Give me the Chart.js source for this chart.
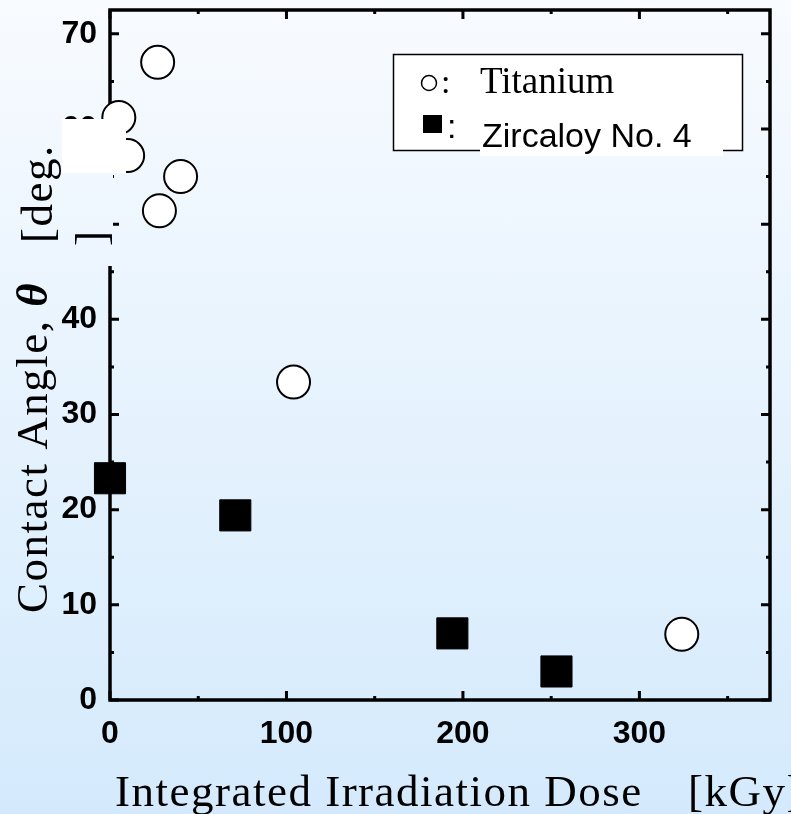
<!DOCTYPE html>
<html>
<head>
<meta charset="utf-8">
<script src="https://cdn.jsdelivr.net/npm/chart.js@4"></script>
<style>
    html, body { margin: 0; padding: 0; }
    body {
        width: 791px;
        height: 814px;
        overflow: hidden;
        background: linear-gradient(to bottom, #f8fbff 0%, #d4eafc 100%);
    }
    canvas { display: block; }
</style>
</head>
<body>
<canvas id="myChart" width="791" height="814"></canvas>
<script>
// values
const titaniumDose = [27, 5, 10, 40, 28, 104, 324];
const titaniumAngle = [67.0, 61.2, 57.2, 55.0, 51.4, 33.4, 6.9];
const zircaloyDose = [0, 71, 194, 253];
const zircaloyAngle = [23.3, 19.4, 7.0, 3.0];

const xTicks = [0, 100, 200, 300];
const xMinor = [50, 150, 250, 350];
const yTicks = [0, 10, 20, 30, 40, 50, 60, 70];
const yMinor = [5, 15, 25, 35, 45, 55, 65];
const xMax = 374, yMax = 72.5;

const toPoints = (xs, ys) => xs.map((v, i) => ({ x: v, y: ys[i] }));

// frame box with inner ticks on all four sides
const framePlugin = {
    id: 'frame',
    beforeDatasetsDraw(chart) {
        const { ctx, chartArea: a, scales: { x, y } } = chart;
        ctx.save();
        ctx.strokeStyle = '#000';
        ctx.lineWidth = 3.5;
        ctx.strokeRect(a.left, a.top, a.right - a.left, a.bottom - a.top);
        ctx.lineWidth = 3;
        ctx.beginPath();
        const xt = (v, len) => {
            const px = x.getPixelForValue(v);
            ctx.moveTo(px, a.bottom); ctx.lineTo(px, a.bottom - len);
            ctx.moveTo(px, a.top); ctx.lineTo(px, a.top + len);
        };
        const yt = (v, len) => {
            const py = y.getPixelForValue(v);
            ctx.moveTo(a.left, py); ctx.lineTo(a.left + len, py);
            ctx.moveTo(a.right, py); ctx.lineTo(a.right - len, py);
        };
        xTicks.forEach(v => xt(v, 9));
        xMinor.forEach(v => xt(v, 4));
        yTicks.forEach(v => yt(v, 9));
        yMinor.forEach(v => yt(v, 4));
        ctx.stroke();
        ctx.restore();
    }
};

// patches, axis titles and the boxed legend
const overlayPlugin = {
    id: 'overlay',
    afterDraw(chart) {
        const { ctx, chartArea: a } = chart;
        ctx.save();

        // the pasted-over bits on the left axis
        ctx.fillStyle = '#fff';
        ctx.fillRect(62, 119, a.left + 16 - 62, 54);
        ctx.clearRect(0, 173, a.left + 3, 93);

        ctx.fillStyle = '#000';
        ctx.letterSpacing = '1.5px';

        // y title
        ctx.save();
        ctx.translate(47, 613);
        ctx.rotate(-Math.PI / 2);
        ctx.font = '45px "Liberation Serif"';
        ctx.textAlign = 'left';
        ctx.textBaseline = 'alphabetic';
        const part = 'Contact Angle, ';
        ctx.fillText(part, 0, 0);
        const w = ctx.measureText(part).width;
        ctx.font = 'italic bold 45px "Liberation Serif"';
        ctx.fillText('θ', w, 0);
        ctx.restore();

        ctx.save();
        ctx.translate(52, 243);
        ctx.rotate(-Math.PI / 2);
        ctx.font = '45px "Liberation Serif"';
        ctx.fillText('[deg.', 0, 0);
        ctx.restore();

        ctx.save();
        ctx.translate(106, 246);
        ctx.rotate(-Math.PI / 2);
        ctx.font = '45px "Liberation Serif"';
        ctx.fillText(']', 0, 0);
        ctx.restore();

        // x title
        ctx.font = '45px "Liberation Serif"';
        ctx.textAlign = 'left';
        ctx.fillText('Integrated Irradiation Dose', 115, 806);
        ctx.fillText('[kGy]', 688, 806);
        ctx.letterSpacing = '0px';

        // legend
        const ds = chart.data.datasets;
        ctx.fillStyle = '#fff';
        ctx.fillRect(393, 54, 350, 97);
        ctx.strokeStyle = '#000';
        ctx.lineWidth = 1.5;
        ctx.strokeRect(393.5, 54.5, 349, 96);

        ctx.beginPath();
        ctx.arc(429, 83, 7.5, 0, Math.PI * 2);
        ctx.fillStyle = '#fff';
        ctx.fill();
        ctx.stroke();
        ctx.fillStyle = '#000';
        ctx.font = '34px "Liberation Serif"';
        ctx.fillText(':', 441, 93);
        ctx.font = '37px "Liberation Serif"';
        ctx.fillText(ds[0].label, 480, 93);

        ctx.fillRect(423, 115, 19, 18);
        ctx.font = '34px "Liberation Sans"';
        ctx.fillText(':', 447, 138);
        ctx.fillStyle = '#fff';
        ctx.fillRect(480, 108, 243, 48);
        ctx.fillStyle = '#000';
        ctx.fillText(ds[1].label, 482, 147);

        ctx.restore();
    }
};

const data = {
    datasets: [{
        label: 'Titanium',
        data: toPoints(titaniumDose, titaniumAngle),
        pointStyle: 'circle',
        pointRadius: 16.5,
        pointHoverRadius: 16.5,
        backgroundColor: '#fff',
        borderColor: '#000',
        borderWidth: 2,
        clip: false
    }, {
        label: 'Zircaloy No. 4',
        data: toPoints(zircaloyDose, zircaloyAngle),
        pointStyle: 'rect',
        pointRadius: 22,
        pointHoverRadius: 22,
        backgroundColor: '#000',
        borderColor: '#000',
        borderWidth: 1,
        clip: false
    }]
};

const tickFont = { family: '"Liberation Sans", sans-serif', size: 32, weight: 'bold' };

const config = {
    type: 'scatter',
    data,
    options: {
        responsive: false,
        animation: false,
        events: [],
        layout: { autoPadding: false, padding: { top: 10, right: 21, left: 0, bottom: 0 } },
        plugins: { legend: { display: false }, tooltip: { enabled: false } },
        scales: {
            x: {
                type: 'linear',
                min: 0,
                max: xMax,
                grid: { display: false, drawTicks: false },
                border: { display: false },
                ticks: { font: tickFont, color: '#000', padding: 15, maxRotation: 0 },
                afterBuildTicks(scale) { scale.ticks = xTicks.map(v => ({ value: v })); },
                afterFit(scale) { scale.height = 114; scale.paddingLeft = 0; scale.paddingRight = 0; }
            },
            y: {
                type: 'linear',
                min: 0,
                max: yMax,
                grid: { display: false, drawTicks: false },
                border: { display: false },
                ticks: { font: tickFont, color: '#000', padding: 13 },
                afterBuildTicks(scale) { scale.ticks = yTicks.map(v => ({ value: v })); },
                afterFit(scale) { scale.width = 110; scale.paddingTop = 0; scale.paddingBottom = 0; }
            }
        }
    },
    plugins: [framePlugin, overlayPlugin]
};

const myChart = new Chart(document.getElementById('myChart'), config);
</script>
</body>
</html>
